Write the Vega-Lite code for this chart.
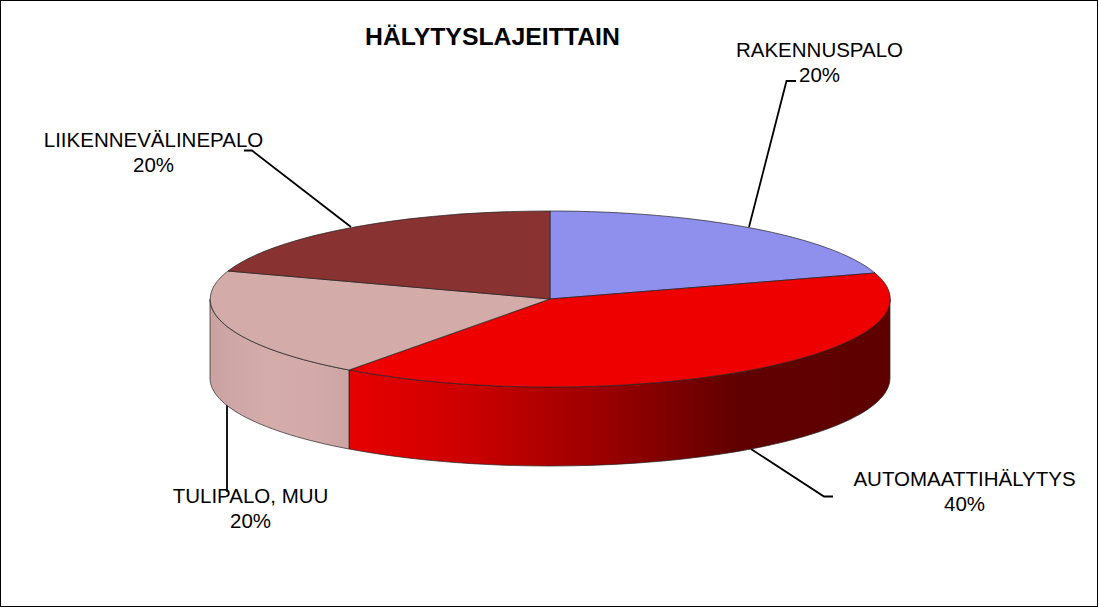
{"$schema":"https://vega.github.io/schema/vega-lite/v6.json","width":1098,"height":607,"padding":0,"autosize":"none","background":"white","config":{"view":{"stroke":"black","strokeWidth":2,"fill":"white"}},"title":{"text":"HÄLYTYSLAJEITTAIN","font":"Liberation Sans","fontSize":24.8,"fontWeight":"bold","color":"black","anchor":"start","dx":365,"offset":-50},"data":{"values":[{"slice":"RAKENNUSPALO","share":20},{"slice":"AUTOMAATTIHÄLYTYS","share":40},{"slice":"TULIPALO, MUU","share":20},{"slice":"LIIKENNEVÄLINEPALO","share":20}]},"resolve":{"scale":{"shape":"independent","color":"independent"}},"encoding":{"x":{"datum":550,"type":"quantitative","scale":{"domain":[0,1099],"range":[0,1099]},"axis":null},"y":{"datum":299,"type":"quantitative","scale":{"domain":[0,608],"range":[0,608]},"axis":null}},"layer":[{"mark":{"type":"point","filled":false,"opacity":1,"stroke":"black","strokeWidth":1.8,"size":4,"fill":null},"encoding":{"shape":{"field":"slice","type":"nominal","legend":null,"scale":{"domain":["RAKENNUSPALO","AUTOMAATTIHÄLYTYS","TULIPALO, MUU","LIIKENNEVÄLINEPALO"],"range":["M199,-72L236.5,-218L246,-218","M201,150L274,197.5L283,197.5","M-323,106L-323,193","M-199,-72L-298,-148.5L-306,-148.5"]}}}},{"transform":[{"filter":"datum.slice==='AUTOMAATTIHÄLYTYS'"}],"mark":{"type":"point","filled":true,"opacity":1,"size":4,"stroke":"#222222","strokeWidth":0.7,"fill":{"gradient":"linear","x1":0,"x2":1,"y1":0,"y2":0,"stops":[{"offset":0,"color":"#e60000"},{"offset":0.2,"color":"#cf0000"},{"offset":0.5,"color":"#940000"},{"offset":0.72,"color":"#600000"},{"offset":1,"color":"#5f0000"}]}},"encoding":{"shape":{"field":"slice","type":"nominal","legend":null,"scale":{"domain":["AUTOMAATTIHÄLYTYS"],"range":["M-201,71A340,88 0 0 0 340,0L340,79A340,88 0 0 1 -201,150Z"]}}}},{"transform":[{"filter":"datum.slice==='TULIPALO, MUU'"}],"mark":{"type":"point","filled":true,"opacity":1,"size":4,"stroke":"#222222","strokeWidth":0.7,"fill":{"gradient":"linear","x1":0,"x2":1,"y1":0,"y2":0,"stops":[{"offset":0,"color":"#c9a2a2"},{"offset":0.4,"color":"#d4acaa"},{"offset":0.75,"color":"#d3aaa9"},{"offset":1,"color":"#cca4a4"}]}},"encoding":{"shape":{"field":"slice","type":"nominal","legend":null,"scale":{"domain":["TULIPALO, MUU"],"range":["M-340,0A340,88 0 0 0 -201,71L-201,150A340,88 0 0 1 -340,79Z"]}}}},{"mark":{"type":"point","filled":true,"opacity":1,"size":4,"stroke":"#222222","strokeWidth":0.7},"encoding":{"shape":{"field":"slice","type":"nominal","legend":null,"scale":{"domain":["RAKENNUSPALO","AUTOMAATTIHÄLYTYS","TULIPALO, MUU","LIIKENNEVÄLINEPALO"],"range":["M0,0L0,-88A340,88 0 0 1 325,-26Z","M0,0L325,-26A340,88 0 0 1 -201,71Z","M0,0L-201,71A340,88 0 0 1 -322,-28Z","M0,0L-322,-28A340,88 0 0 1 0,-88Z"]}},"color":{"field":"slice","type":"nominal","legend":null,"scale":{"domain":["RAKENNUSPALO","AUTOMAATTIHÄLYTYS","TULIPALO, MUU","LIIKENNEVÄLINEPALO"],"range":["#8f8fee","#ee0000","#d3aca9","#893232"]}}}},{"transform":[{"filter":"datum.slice==='RAKENNUSPALO'"},{"calculate":"datum.slice+'\\n'+datum.share+'%'","as":"label"}],"mark":{"type":"text","font":"Liberation Sans","fontSize":20.5,"color":"black","align":"center","baseline":"alphabetic","lineBreak":"\n","lineHeight":25},"encoding":{"x":{"datum":819.5,"type":"quantitative"},"y":{"datum":57,"type":"quantitative"},"text":{"field":"label"}}},{"transform":[{"filter":"datum.slice==='AUTOMAATTIHÄLYTYS'"},{"calculate":"datum.slice+'\\n'+datum.share+'%'","as":"label"}],"mark":{"type":"text","font":"Liberation Sans","fontSize":20.5,"color":"black","align":"center","baseline":"alphabetic","lineBreak":"\n","lineHeight":25},"encoding":{"x":{"datum":964.5,"type":"quantitative"},"y":{"datum":486,"type":"quantitative"},"text":{"field":"label"}}},{"transform":[{"filter":"datum.slice==='TULIPALO, MUU'"},{"calculate":"datum.slice+'\\n'+datum.share+'%'","as":"label"}],"mark":{"type":"text","font":"Liberation Sans","fontSize":20.5,"color":"black","align":"center","baseline":"alphabetic","lineBreak":"\n","lineHeight":25},"encoding":{"x":{"datum":250.5,"type":"quantitative"},"y":{"datum":503,"type":"quantitative"},"text":{"field":"label"}}},{"transform":[{"filter":"datum.slice==='LIIKENNEVÄLINEPALO'"},{"calculate":"datum.slice+'\\n'+datum.share+'%'","as":"label"}],"mark":{"type":"text","font":"Liberation Sans","fontSize":20.5,"color":"black","align":"center","baseline":"alphabetic","lineBreak":"\n","lineHeight":25},"encoding":{"x":{"datum":153.5,"type":"quantitative"},"y":{"datum":147,"type":"quantitative"},"text":{"field":"label"}}}]}
